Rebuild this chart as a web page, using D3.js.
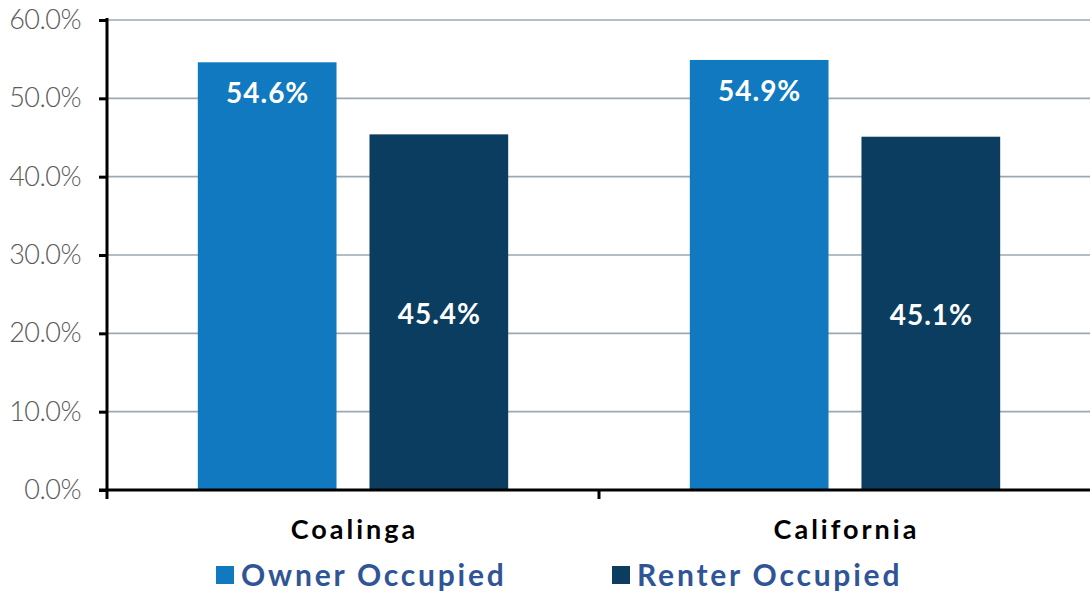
<!DOCTYPE html>
<html>
<head>
<meta charset="utf-8">
<script src="https://cdn.jsdelivr.net/npm/d3@7"></script>
<style>
  html, body { margin: 0; padding: 0; background: #ffffff; }
  svg { display: block; }
  text { font-family: Lato, "Open Sans", sans-serif; }
</style>
</head>
<body>
<svg id="chart" width="1090" height="594"></svg>
<script>
// Housing tenure share by geography
const categories = ["Coalinga", "California"];
const seriesNames = ["Owner Occupied", "Renter Occupied"];
const ownerValues = [0.546, 0.549];
const renterValues = [0.454, 0.451];
const yTicks = [0, 0.1, 0.2, 0.3, 0.4, 0.5, 0.6];

const colors = { "Owner Occupied": "#1079bf", "Renter Occupied": "#0a3d5f" };

const rows = categories.map((c, i) => ({
  category: c,
  values: [
    { series: seriesNames[0], value: ownerValues[i] },
    { series: seriesNames[1], value: renterValues[i] }
  ]
}));

const svg = d3.select("#chart");
const W = 1090;
const plot = { left: 107, right: 1091, top: 20, bottom: 490 };

const y = d3.scaleLinear().domain([0, 0.6]).range([plot.bottom, plot.top]);
const x0 = d3.scaleBand().domain(categories).range([plot.left, plot.right]).padding(0);
const x1 = d3.scaleBand().domain(seriesNames).range([0, x0.bandwidth()])
  .paddingInner(0.192).paddingOuter(0.529);

const fmt = d3.format(".1%");

// Gridlines
svg.append("g")
  .selectAll("line")
  .data(yTicks.filter(t => t > 0))
  .join("line")
  .attr("x1", plot.left).attr("x2", W)
  .attr("y1", d => y(d)).attr("y2", d => y(d))
  .attr("stroke", "#9da8b2").attr("stroke-width", 1.6);

// Bars
const groups = svg.append("g")
  .selectAll("g")
  .data(rows)
  .join("g")
  .attr("transform", d => `translate(${x0(d.category)},0)`);

groups.selectAll("rect")
  .data(d => d.values)
  .join("rect")
  .attr("x", d => x1(d.series))
  .attr("width", x1.bandwidth())
  .attr("y", d => y(d.value))
  .attr("height", d => y(0) - y(d.value))
  .attr("fill", d => colors[d.series]);

// Value labels: owner near top of bar, renter centred in bar
groups.selectAll("text.val")
  .data(d => d.values)
  .join("text")
  .attr("class", "val")
  .attr("x", d => x1(d.series) + x1.bandwidth() / 2 + 0.5)
  .attr("y", d => d.series === seriesNames[0] ? y(d.value) + 41 : (y(d.value) + y(0)) / 2 + 11.5)
  .attr("text-anchor", "middle")
  .attr("font-size", 28)
  .attr("font-weight", 700)
  .attr("letter-spacing", 1)
  .attr("fill", "#ffffff")
  .text(d => fmt(d.value));

// Y axis
const yAxis = d3.axisLeft(y).tickValues(yTicks).tickFormat(fmt).tickSize(8).tickPadding(18);
const yg = svg.append("g").attr("transform", `translate(${plot.left},0)`).call(yAxis);
yg.select(".domain").attr("stroke", "#000").attr("stroke-width", 3)
  .attr("d", `M0,${plot.top - 2}V${plot.bottom + 9}`);
yg.selectAll(".tick line").attr("stroke", "#000").attr("stroke-width", 3);
yg.selectAll(".tick text")
  .attr("font-size", 27)
  .attr("fill", "#5a5a5a")
  .attr("font-family", "Lato, sans-serif")
  .attr("font-weight", 300)
  .attr("letter-spacing", -0.5);

// X axis line with ticks at category boundaries
svg.append("line")
  .attr("x1", plot.left - 8).attr("x2", W)
  .attr("y1", plot.bottom).attr("y2", plot.bottom)
  .attr("stroke", "#000").attr("stroke-width", 3);
svg.append("g")
  .selectAll("line")
  .data(categories.slice(1))
  .join("line")
  .attr("x1", d => x0(d)).attr("x2", d => x0(d))
  .attr("y1", plot.bottom).attr("y2", plot.bottom + 9)
  .attr("stroke", "#000").attr("stroke-width", 3);

// Category labels
svg.append("g")
  .selectAll("text")
  .data(categories)
  .join("text")
  .attr("x", d => x0(d) + x0.bandwidth() / 2 + 1.5)
  .attr("y", 539)
  .attr("text-anchor", "middle")
  .attr("font-size", 27)
  .attr("font-weight", 700)
  .attr("letter-spacing", 3)
  .attr("fill", "#000")
  .text(d => d);

// Legend
const legendX = [216, 612];
const legend = svg.append("g")
  .selectAll("g")
  .data(seriesNames)
  .join("g")
  .attr("transform", (d, i) => `translate(${legendX[i]},0)`);
legend.append("rect")
  .attr("x", 0).attr("y", 566)
  .attr("width", 18).attr("height", 18)
  .attr("fill", d => colors[d]);
legend.append("text")
  .attr("x", 25).attr("y", 586)
  .attr("font-size", 30)
  .attr("font-weight", 700)
  .attr("letter-spacing", 2.8)
  .attr("fill", "#2f5597")
  .text(d => d);
</script>
</body>
</html>
